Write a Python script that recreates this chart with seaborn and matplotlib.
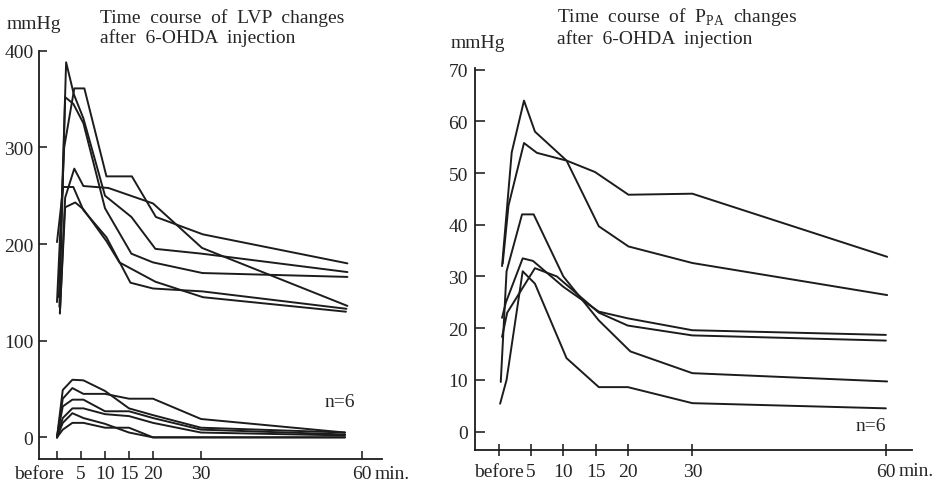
import pandas as pd
import matplotlib
matplotlib.use('Agg')
import matplotlib.pyplot as plt
from matplotlib.transforms import ScaledTranslation
import seaborn as sns

# 左: LVP 上側6本 (収縮期) -- 各線ごとに時刻(min)と値(mmHg)
lvp_hi_times = [
    [0, 1.5, 3.6, 5.7, 10.3, 15.6, 20.6, 30.4, 60.5],
    [0.6, 1.7, 3.6, 5.5, 10.7, 20, 30.2, 60.5],
    [0.4, 1.9, 3.5, 5.5, 10, 15.5, 20.5, 30.2, 60.5],
    [0.5, 1.7, 3.4, 5.5, 10, 15.5, 20, 30.3, 60.5],
    [0, 1.3, 3.4, 5.5, 10.3, 15.3, 20, 30.3, 60.3],
    [0.6, 1.7, 3.8, 5.5, 10.3, 13, 20.5, 30.4, 60.2],
]
lvp_hi_vals = [
    [140, 300, 361, 361, 270, 270, 228, 210, 180],
    [128, 248, 278, 260, 258, 242, 196, 136],
    [145, 388, 355, 330, 250, 228, 195, 190, 171],
    [135, 352, 345, 325, 237, 190, 181, 170, 166],
    [202, 259, 259, 235, 207, 160, 154, 151, 133],
    [129, 238, 243, 236, 203, 181, 161, 145, 130],
]

# 左: LVP 下側6本 (拡張期)
lvp_lo_time = [0, 1.2, 3.2, 5.5, 10, 15, 20, 30, 60]
lvp_lo_vals = [
    [0, 49, 59.6, 59, 48, 30, 23, 10, 5],
    [0, 40, 51, 45, 45, 40, 40, 19, 5],
    [0, 32, 39, 39, 27, 27, 20, 8, 3],
    [0, 20, 30, 30, 24, 22, 15, 5, 2],
    [0, 15, 25, 20, 14, 5, 0, 0, 0],
    [0, 8, 15, 15, 10, 10, 0, 0, 0],
]

# 右: PPA 6本
ppa_times = [
    [0.5, 2.0, 3.9, 5.6, 10.5, 15.5, 20.1, 30, 60.2],
    [0.6, 1.5, 3.9, 5.9, 10.5, 14.9, 20.1, 30, 60.2],
    [0.3, 1.2, 3.6, 5.4, 10, 15.5, 20.4, 30, 60.2],
    [0.5, 1.1, 3.7, 5.3, 10, 15.5, 20, 30, 60],
    [0.5, 1.3, 5.6, 9, 15.5, 20, 30, 60],
    [0.2, 1.2, 3.7, 5.6, 10.5, 15.5, 20, 30, 60],
]
ppa_vals = [
    [32, 54, 64, 58, 52.4, 39.7, 35.8, 32.6, 26.4],
    [32.5, 43.7, 55.8, 53.9, 52.4, 50.2, 45.8, 46, 33.8],
    [9.6, 31, 42, 42, 30, 21.5, 15.5, 11.3, 9.7],
    [22, 25, 33.5, 33, 28, 23.2, 21.9, 19.6, 18.7],
    [18.3, 23, 31.6, 30, 23, 20.5, 18.6, 17.6],
    [5.4, 10, 31, 28.6, 14.2, 8.6, 8.6, 5.5, 4.5],
]

# 目盛り
x_ticks = [0, 5, 10, 15, 20, 30, 60]
x_labels = ['before', '5', '10', '15', '20', '30', '60']
# 左図は原図で60の目盛りが少し右にずれている
x_ticks_left = [0, 5, 10, 15, 20, 30, 63.5]
lvp_yticks = [0, 100, 200, 300, 400]
ppa_yticks = [0, 10, 20, 30, 40, 50, 60, 70]


def to_frame(times, vals):
    rows = []
    for i, (ts, vs) in enumerate(zip(times, vals)):
        for t, v in zip(ts, vs):
            rows.append((i, t, v))
    return pd.DataFrame(rows, columns=['id', 't', 'v'])


lvp_df = pd.concat([
    to_frame(lvp_hi_times, lvp_hi_vals),
    to_frame([lvp_lo_time] * len(lvp_lo_vals), lvp_lo_vals).assign(id=lambda d: d['id'] + 10),
])
ppa_df = to_frame(ppa_times, ppa_vals)

sns.set_style('ticks')
plt.rcParams['font.family'] = ['Liberation Serif', 'DejaVu Serif']
plt.rcParams['font.size'] = 14
# 添字(PA)もセリフ体で
plt.rcParams['mathtext.fontset'] = 'custom'
plt.rcParams['mathtext.rm'] = 'Liberation Serif'

fig = plt.figure(figsize=(9.42, 4.85), dpi=100)
ax1 = fig.add_axes([0.0414, 0.0515, 0.3641, 0.8419])
ax2 = fig.add_axes([0.5042, 0.0707, 0.4636, 0.787])

line_kw = dict(x='t', y='v', units='id', estimator=None, sort=False,
               color='#1c1c1c', lw=1.4, legend=False)
sns.lineplot(data=lvp_df, ax=ax1, **line_kw)
sns.lineplot(data=ppa_df, ax=ax2, **line_kw)

for ax in (ax1, ax2):
    sns.despine(ax=ax)
    ax.set_xlabel('')
    ax.set_ylabel('')
    for s in ('left', 'bottom'):
        ax.spines[s].set_linewidth(1.3)
        ax.spines[s].set_color('#1c1c1c')

ax1.set_xlim(-3.75, 67.7)
ax1.set_ylim(-22.4, 400)
ax1.set_xticks(x_ticks_left, x_labels)
ax1.set_yticks(lvp_yticks)
ax1.tick_params(axis='both', direction='in', length=6, width=1.2, labelsize=14, pad=4)

ax2.set_xlim(-3.7, 64.0)
ax2.set_ylim(-3.5, 70.3)
ax2.set_xticks(x_ticks, x_labels)
ax2.set_yticks(ppa_yticks)
ax2.tick_params(axis='y', direction='in', length=7, width=1.2, labelsize=14, pad=5)
ax2.tick_params(axis='x', direction='inout', length=9, width=1.2, labelsize=14, pad=5)

# 左図の"before"は"5"と重ならないよう左へずらす
lab = ax1.get_xticklabels()[0]
lab.set_transform(lab.get_transform() + ScaledTranslation(-18 / 100, 0, fig.dpi_scale_trans))

for ax, xt in ((ax1, x_ticks_left[-1]), (ax2, x_ticks[-1])):
    ax.annotate('min.', xy=(xt, 0), xycoords=ax.get_xaxis_transform(),
                xytext=(9, -4 if ax is ax1 else -9), textcoords='offset points',
                ha='left', va='top', fontsize=14)

# タイトル・単位・n
fig.text(0.106, 0.982, 'Time  course  of  LVP  changes\nafter  6-OHDA  injection',
         ha='left', va='top', fontsize=14, linespacing=1.2)
fig.text(0.591, 0.988, 'Time  course  of  P$_{\\mathrm{PA}}$  changes\nafter  6-OHDA  injection',
         ha='left', va='top', fontsize=14, linespacing=1.2)
fig.text(0.0074, 0.968, 'mmHg', ha='left', va='top', fontsize=14)
fig.text(0.478, 0.928, 'mmHg', ha='left', va='top', fontsize=14)
fig.text(0.345, 0.188, 'n=6', ha='left', va='top', fontsize=14)
fig.text(0.908, 0.138, 'n=6', ha='left', va='top', fontsize=14)

plt.savefig('out.png', dpi=100)
